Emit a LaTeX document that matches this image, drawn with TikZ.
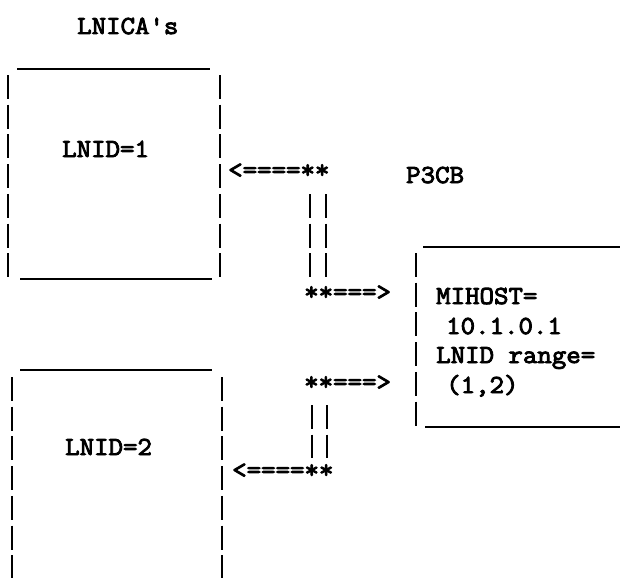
\documentclass[tikz,border=0pt]{standalone}
\usepackage{fontspec}
\newfontfamily\tw{Latin Modern Mono}[FakeStretch=1.08,FakeBold=3.5]
\tikzset{
  tt/.style={font=\tw\fontsize{26}{26}\selectfont, inner sep=0pt, anchor=base west},
  uline/.style={line width=2.2pt},
  pipe/.style={line width=2.6pt, dash pattern=on 24pt off 5.7pt},
}
\begin{document}
\begin{tikzpicture}[x=1pt,y=-1pt]
\useasboundingbox (0,0) rectangle (623,578);
% title
\node[tt] (title) at (77,34) {LNICA's};
% box 1 (LNID=1)
\draw[uline] (17,69) -- (210,69);
\draw[uline] (20,279) -- (212,279);
\draw[pipe] (8,75) -- (8,279);
\draw[pipe] (220,75) -- (220,279);
\node[tt] (l1) at (62,157) {LNID=1};
% box 2 (LNID=2)
\draw[uline] (20,370) -- (212,370);
\draw[pipe] (12,377) -- (12,578);
\draw[pipe] (222,377) -- (222,578);
\node[tt] (l2) at (65,455) {LNID=2};
% box 3 (P3CB)
\node[tt] (p3cb) at (406,183) {P3CB};
\draw[uline] (423,247) -- (620,247);
\draw[uline] (425,427) -- (620,427);
\draw[pipe] (416,253) -- (416,427);
\node[tt] (mh) at (436,304) {MIHOST=};
\node[tt] (ip) at (446,334) {10.1.0.1};
\node[tt] (lr) at (436,363) {LNID range=};
\node[tt] (rg) at (446,393) {(1,2)};
% connectors, upper
\node[tt] (a1) at (228,178) {<====**};
\node[tt] (b1) at (304,300) {**===>};
\coordinate (a1l) at (310,194); \coordinate (b1l) at (310,278);
\coordinate (a1r) at (326,194); \coordinate (b1r) at (326,278);
\draw[pipe] (a1l) -- (b1l);
\draw[pipe] (a1r) -- (b1r);
% connectors, lower
\node[tt] (b2) at (304,390) {**===>};
\node[tt] (a2) at (232,478) {<====**};
\coordinate (b2l) at (312,405); \coordinate (a2l) at (312,458);
\coordinate (b2r) at (327,405); \coordinate (a2r) at (327,458);
\draw[pipe] (b2l) -- (a2l);
\draw[pipe] (b2r) -- (a2r);
\end{tikzpicture}
\end{document}
